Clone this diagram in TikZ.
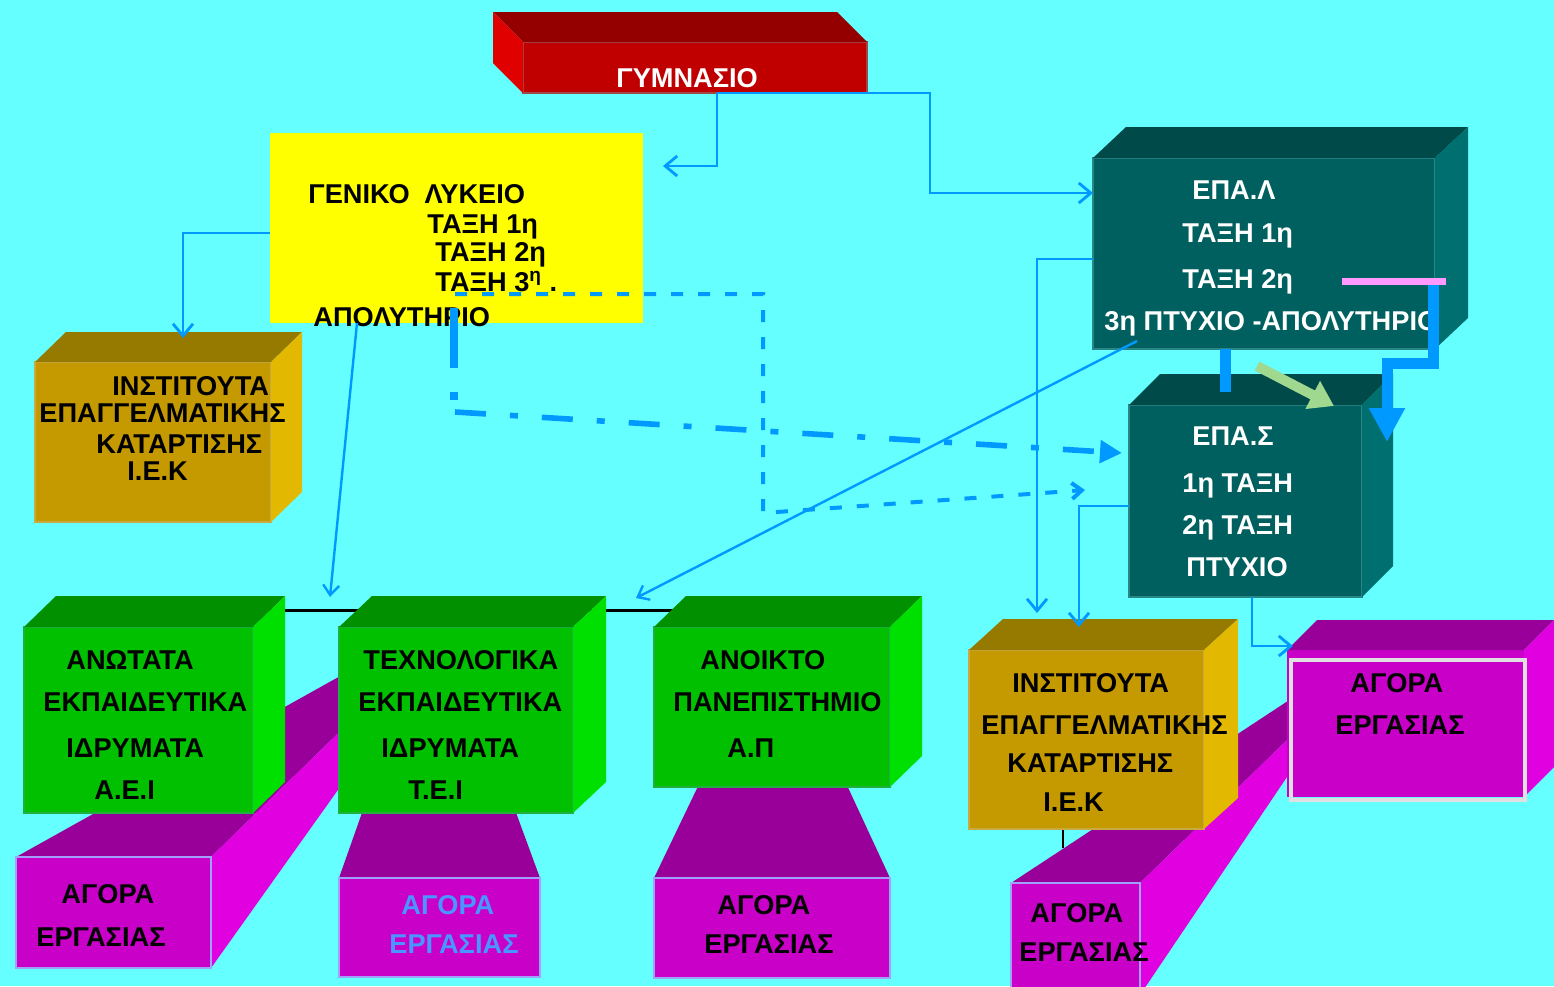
\documentclass[tikz,border=0pt]{standalone}
\usepackage{fontspec}
\setmainfont{Liberation Sans}
\usetikzlibrary{arrows.meta,fit}
\definecolor{bgc}{HTML}{66FFFF}
\definecolor{yelF}{HTML}{FFFF00}
\definecolor{redF}{HTML}{C00000}
\definecolor{redT}{HTML}{940000}
\definecolor{redL}{HTML}{E00000}
\definecolor{redE}{HTML}{A04848}
\definecolor{ochF}{HTML}{C49A00}
\definecolor{ochT}{HTML}{967A00}
\definecolor{ochR}{HTML}{E2B800}
\definecolor{ochE}{HTML}{C8AA40}
\definecolor{grnF}{HTML}{00C000}
\definecolor{grnT}{HTML}{009000}
\definecolor{grnR}{HTML}{00E000}
\definecolor{grnE}{HTML}{20B040}
\definecolor{tlF}{HTML}{006060}
\definecolor{tlT}{HTML}{004A4A}
\definecolor{tlR}{HTML}{006F6F}
\definecolor{tlE}{HTML}{2A8585}
\definecolor{magF}{HTML}{C800C8}
\definecolor{magT}{HTML}{990099}
\definecolor{magR}{HTML}{E000E0}
\definecolor{magE}{HTML}{A0A0FF}
\definecolor{linkblue}{HTML}{0099FF}
\definecolor{pinkc}{HTML}{FF99FF}
\definecolor{greenA}{HTML}{A0D890}
\definecolor{agtxt}{HTML}{4A96FF}
\definecolor{frameW}{HTML}{E0E0E0}
\tikzset{
  txt/.style={font=\fontsize{13.6}{16}\selectfont\bfseries, inner sep=0pt, anchor=base west, text=black},
  wtxt/.style={txt, text=white},
  btxt/.style={txt, text=agtxt},
  face/.style={inner sep=0pt, outer sep=0pt, line width=0.8pt},
  conn/.style={draw=linkblue, line width=1.4pt},
  barb/.style={-{Straight Barb[length=6pt,width=10pt]}},
  smallbarb/.style={-{Straight Barb[length=5pt,width=8pt]}},
}
\newcommand\cubefaces[5]{%
  \fill[#2] (#1.north west) -- ++(#4,#5) -- ([shift={(#4,#5)}]#1.north east) -- (#1.north east) -- cycle;
  \fill[#3] (#1.north east) -- ++(#4,#5) -- ([shift={(#4,#5)}]#1.south east) -- (#1.south east) -- cycle;}
\begin{document}
\begin{tikzpicture}[x=0.5pt,y=-0.5pt]
\useasboundingbox (0,0) rectangle (1554,986);
\clip (0,0) rectangle (1554,986);
\fill[bgc] (0,0) rectangle (1554,986);

% ---- magenta boxes behind the green ones
\fill[magT] (16,857) -- (211,857) -- (360,712) -- (360,665) -- cycle;
\fill[magR] (211,857) -- (211,968) -- (360,759) -- (360,712) -- cycle;
\node[face, fill=magF, draw=magE, fit={(16,857)(211,968)}] (m1) {};
\fill[magT] (339,878) -- (540,878) -- (489,739) -- (388,739) -- cycle;
\node[face, fill=magF, draw=magE, fit={(339,878)(540,977)}] (m2) {};
\fill[magT] (654,878) -- (890,878) -- (832,753) -- (714,753) -- cycle;
\node[face, fill=magF, draw=magE, fit={(654,878)(890,978)}] (m3) {};

% ---- black line behind the green boxes
\coordinate (bl0) at (270,610);
\coordinate (bl1) at (690,610);
\draw[black, line width=1.5pt] (bl0) -- (bl1);

% ---- green boxes
\node[face, fill=grnF, draw=grnE, fit={(24,627)(253,813)}] (aei) {};
\cubefaces{aei}{grnT}{grnR}{32}{-31}
\node[face, fill=grnF, draw=grnE, fit={(339,627)(573,813)}] (tei) {};
\cubefaces{tei}{grnT}{grnR}{33}{-31}
\node[face, fill=grnF, draw=grnE, fit={(654,627)(890,787)}] (ap) {};
\cubefaces{ap}{grnT}{grnR}{32}{-31}

% ---- magenta box behind the right IEK
\fill[magT] (1011,883) -- (1140,883) -- (1320,708) -- (1300,693) -- cycle;
\fill[magR] (1140,883) -- (1140,995) -- (1320,728) -- (1320,708) -- cycle;
\node[face, fill=magF, draw=magE, fit={(1011,883)(1140,995)}] (m4) {};

% ---- right IEK
\node[face, fill=ochF, draw=ochE, fit={(969,650)(1204,829)}] (iek2) {};
\cubefaces{iek2}{ochT}{ochR}{34}{-31}
\coordinate (tk0) at (1063,830);
\coordinate (tk1) at (1063,848);
\draw[black, line width=1.2pt] (tk0) -- (tk1);

% ---- right magenta box with frame
\node[face, fill=magF, fit={(1287,650)(1524,797)}] (m5) {};
\cubefaces{m5}{magT}{magR}{30}{-30}
\node[draw=frameW, line width=2pt, inner sep=0pt, fit={(1291,660)(1525,800)}] (m5f) {};

% ---- left IEK
\node[face, fill=ochF, draw=ochE, fit={(35,362)(271,522)}] (iek1) {};
\cubefaces{iek1}{ochT}{ochR}{31}{-30}

% ---- yellow lyceum
\node[face, fill=yelF, fit={(270,133)(643,323)}] (lyk) {};

% ---- red gymnasium (depth to the left)
\node[face, fill=redF, draw=redE, line width=0.6pt, fit={(523,42)(867,93)}] (gym) {};
\fill[redT] (gym.north west) -- ++(-30,-30) -- ([shift={(-30,-30)}]gym.north east) -- (gym.north east) -- cycle;
\fill[redL] (gym.north west) -- ++(-30,-30) -- ([shift={(-30,-30)}]gym.south west) -- (gym.south west) -- cycle;

% ---- teal EPAL / EPAS
\node[face, fill=tlF, draw=tlE, fit={(1093,158)(1435,349)}] (epal) {};
\cubefaces{epal}{tlT}{tlR}{33}{-31}
\node[face, fill=tlF, draw=tlE, fit={(1129,405)(1362,597)}] (epas) {};
\cubefaces{epas}{tlT}{tlR}{31}{-31}

% ---- texts
\node[wtxt] (tgym) at (616,87.5) {ΓΥΜΝΑΣΙΟ};

\node[txt] (ly1) at (308,203.5) {ΓΕΝΙΚΟ\ \ ΛΥΚΕΙΟ};
\node[txt] (ly2) at (427,233.5) {ΤΑΞΗ 1η};
\node[txt] (ly3) at (435,261.5) {ΤΑΞΗ 2η};
\node[txt] (ly4) at (435,291.5) {ΤΑΞΗ 3\textsuperscript{η} .};
\node[txt] (ly5) at (313,326.5) {ΑΠΟΛΥΤΗΡΙΟ};

\node[txt] (ia1) at (112,395.5) {ΙΝΣΤΙΤΟΥΤΑ};
\node[txt] (ia2) at (39,422.5) {ΕΠΑΓΓΕΛΜΑΤΙΚΗΣ};
\node[txt] (ia3) at (96,453.5) {ΚΑΤΑΡΤΙΣΗΣ};
\node[txt] (ia4) at (127,480.5) {Ι.Ε.Κ};

\node[txt] (ae1) at (66,669.5) {ΑΝΩΤΑΤΑ};
\node[txt] (ae2) at (43,711.5) {ΕΚΠΑΙΔΕΥΤΙΚΑ};
\node[txt] (ae3) at (66,757.5) {ΙΔΡΥΜΑΤΑ};
\node[txt] (ae4) at (94,799.5) {Α.Ε.Ι};

\node[txt] (te1) at (363,669.5) {ΤΕΧΝΟΛΟΓΙΚΑ};
\node[txt] (te2) at (358,711.5) {ΕΚΠΑΙΔΕΥΤΙΚΑ};
\node[txt] (te3) at (381,757.5) {ΙΔΡΥΜΑΤΑ};
\node[txt] (te4) at (408,799.5) {Τ.Ε.Ι};

\node[txt] (ap1) at (700,669.5) {ΑΝΟΙΚΤΟ};
\node[txt] (ap2) at (673,711.5) {ΠΑΝΕΠΙΣΤΗΜΙΟ};
\node[txt] (ap3) at (727,757.5) {Α.Π};

\node[txt] (ma1) at (61,903.5) {ΑΓΟΡΑ};
\node[txt] (ma2) at (36,946.5) {ΕΡΓΑΣΙΑΣ};
\node[btxt] (mb1) at (401,914.5) {ΑΓΟΡΑ};
\node[btxt] (mb2) at (389,953.5) {ΕΡΓΑΣΙΑΣ};
\node[txt] (mc1) at (717,914.5) {ΑΓΟΡΑ};
\node[txt] (mc2) at (704,953.5) {ΕΡΓΑΣΙΑΣ};
\node[txt] (md1) at (1030,922.5) {ΑΓΟΡΑ};
\node[txt] (md2) at (1019,961.5) {ΕΡΓΑΣΙΑΣ};
\node[txt] (me1) at (1350,692.5) {ΑΓΟΡΑ};
\node[txt] (me2) at (1335,734.5) {ΕΡΓΑΣΙΑΣ};

\node[txt] (ib1) at (1012,692.5) {ΙΝΣΤΙΤΟΥΤΑ};
\node[txt] (ib2) at (981,734.5) {ΕΠΑΓΓΕΛΜΑΤΙΚΗΣ};
\node[txt] (ib3) at (1007,772.5) {ΚΑΤΑΡΤΙΣΗΣ};
\node[txt] (ib4) at (1043,811.5) {Ι.Ε.Κ};

\node[wtxt] (el1) at (1192,199.5) {ΕΠΑ.Λ};
\node[wtxt] (el2) at (1182,242.5) {ΤΑΞΗ 1η};
\node[wtxt] (el3) at (1182,288.5) {ΤΑΞΗ 2η};
\node[wtxt] (el4) at (1104,330.5) {3η ΠΤΥΧΙΟ -ΑΠΟΛΥΤΗΡΙΟ};

\node[wtxt] (es1) at (1192,445.5) {ΕΠΑ.Σ};
\node[wtxt] (es2) at (1182,492.5) {1η ΤΑΞΗ};
\node[wtxt] (es3) at (1182,534.5) {2η ΤΑΞΗ};
\node[wtxt] (es4) at (1186,576.5) {ΠΤΥΧΙΟ};

% ---- connectors
\coordinate (g0) at (717,93);
\coordinate (gbend) at (930,93);
\coordinate (lykin) at (663,166);
\coordinate (epalin) at (1093,193);
\draw[conn,barb] (g0) |- (lykin);
\draw[conn,barb] (g0) -- (gbend) |- (epalin);

\coordinate (iek1in) at (183,338);
\draw[conn,barb] ([yshift=-2.5pt]lyk.west) -| (iek1in);

\coordinate (l1) at (357,323);
\coordinate (aeiin) at (330,597);
\draw[conn,line width=1.2pt,smallbarb] (l1) -- (aeiin);

\coordinate (d0) at (455,294);
\coordinate (d1) at (763,294);
\coordinate (d2) at (763,513);
\coordinate (d3) at (1085,490);
\draw[conn, line width=2pt, dash pattern=on 6pt off 7.5pt, smallbarb] (d0) -- (d1) -- (d2) -- (d3);

\coordinate (k0) at (454,308);
\coordinate (k1) at (454,368);
\coordinate (k2) at (455,412);
\coordinate (k3) at (1122,453);
\draw[linkblue, line width=4pt] (k0) -- (k1);
\fill[linkblue] (450,392) rectangle (458,400);
\draw[linkblue, line width=2.8pt, dash pattern=on 15.5pt off 12pt on 4pt off 12pt,
      -{Triangle[length=11pt,width=11pt]}] (k2) -- (k3);

\coordinate (iek2a) at (1037,613);
\coordinate (iek2b) at (1079,627);
\coordinate (m5in) at (1293,646);
\draw[conn,barb] ([yshift=-2.75pt]epal.west) -| (iek2a);
\draw[conn,barb] ([yshift=-2.5pt]epas.west) -| (iek2b);
\draw[conn,barb] ([xshift=3.25pt]epas.south) |- (m5in);

\coordinate (e1) at (1137,341);
\coordinate (teiin) at (636,598);
\draw[conn,line width=1.2pt,smallbarb] (e1) -- (teiin);

\draw[linkblue, line width=5.5pt] ([xshift=-19.5pt]epal.south) -- ++(0,43);

\coordinate (p0) at (1342,281);
\coordinate (p1) at (1446,281);
\draw[pinkc, line width=3.5pt] (p0) -- (p1);
\coordinate (q0) at (1433,285);
\coordinate (q1) at (1433,363);
\coordinate (q2) at (1387,363);
\coordinate (q3) at (1387,442);
\draw[linkblue, line width=5.5pt, -{Triangle[length=17pt,width=17pt]}] (q0) -- (q1) -- (q2) -- (q3);

\coordinate (ga0) at (1257,366);
\coordinate (ga1) at (1334,406);
\draw[greenA, line width=5pt, -{Triangle[length=12pt,width=15pt]}] (ga0) -- (ga1);
\end{tikzpicture}
\end{document}
